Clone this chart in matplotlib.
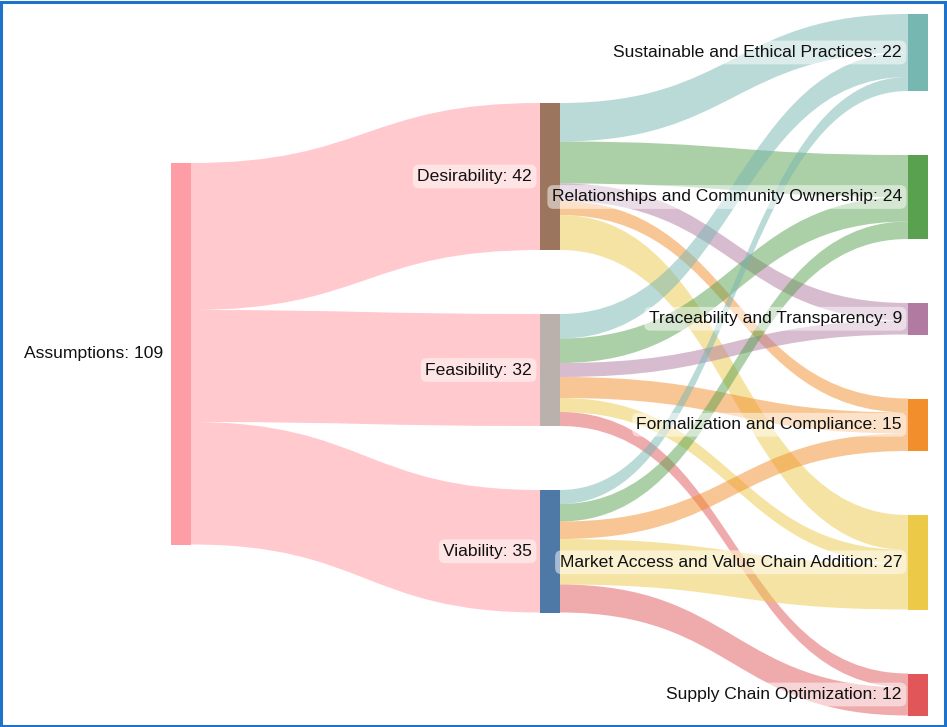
import numpy as np
import matplotlib.pyplot as plt
from matplotlib.path import Path
from matplotlib.patches import PathPatch, Rectangle

plt.rcParams['font.family'] = ['Liberation Sans', 'DejaVu Sans']

## DATA

source_name = "Assumptions"
middle_names = ["Desirability", "Feasibility", "Viability"]
target_names = ["Sustainable and Ethical Practices",
                "Relationships and Community Ownership",
                "Traceability and Transparency",
                "Formalization and Compliance",
                "Market Access and Value Chain Addition",
                "Supply Chain Optimization"]

# flows middle -> target (rows: middle, cols: target)
desirability_flows = [11, 12, 5, 4, 10, 0]
feasibility_flows = [7, 7, 4, 6, 4, 4]
viability_flows = [4, 5, 0, 5, 13, 8]

source_color = "#ff9da7"
middle_colors = ["#9c755f", "#bab0ac", "#4e79a7"]
target_colors = ["#76b7b2", "#59a14f", "#b07aa1", "#f28e2b", "#edc948", "#e15759"]

## LAYOUT (pixels)

W, H = 947, 727
scale = 3.5      # px per unit
gap = 64         # px between nodes
node_w = 20
col_x = [171, 540, 908]
col_top = [163, 103, 14]

flows = np.array([desirability_flows, feasibility_flows, viability_flows])
middle_vals = flows.sum(axis=1)
target_vals = flows.sum(axis=0)
total = middle_vals.sum()


def stack(vals, top):
    pos = []
    y = top
    for v in vals:
        pos.append(y)
        y += v * scale + gap
    return pos


middle_y = stack(middle_vals, col_top[1])
target_y = stack(target_vals, col_top[2])
source_y = col_top[0]


def link(ax, x0, y0, x1, y1, h, color, alpha=0.55):
    xm = (x0 + x1) / 2
    verts = [(x0, y0), (xm, y0), (xm, y1), (x1, y1),
             (x1, y1 + h), (xm, y1 + h), (xm, y0 + h), (x0, y0 + h),
             (x0, y0)]
    codes = [Path.MOVETO, Path.CURVE4, Path.CURVE4, Path.CURVE4,
             Path.LINETO, Path.CURVE4, Path.CURVE4, Path.CURVE4,
             Path.CLOSEPOLY]
    ax.add_patch(PathPatch(Path(verts, codes), facecolor=color, edgecolor='none',
                           alpha=alpha, zorder=1))


def label(ax, x, y, text, box=True):
    bbox = dict(boxstyle='round,pad=0.25,rounding_size=0.35', fc='white', ec='none',
                alpha=0.5) if box else None
    ax.text(x, y, text, ha='right', va='center', fontsize=12.6, color='#111111',
            bbox=bbox, zorder=5)


fig = plt.figure(figsize=(W / 100, H / 100), dpi=100)
ax = fig.add_axes([0, 0, 1, 1])
ax.set_xlim(0, W)
ax.set_ylim(H, 0)
ax.axis('off')

# source -> middle links
y = source_y
for i, v in enumerate(middle_vals):
    link(ax, col_x[0] + node_w, y, col_x[1], middle_y[i], v * scale, source_color)
    y += v * scale

# middle -> target links
target_fill = list(target_y)
for i in range(len(middle_names)):
    y = middle_y[i]
    for j in range(len(target_names)):
        v = flows[i, j]
        if v == 0:
            continue
        link(ax, col_x[1] + node_w, y, col_x[2], target_fill[j], v * scale,
             target_colors[j], alpha=0.5)
        y += v * scale
        target_fill[j] += v * scale

# nodes
ax.add_patch(Rectangle((col_x[0], source_y), node_w, total * scale,
                       fc=source_color, ec='none', zorder=3))
for i, v in enumerate(middle_vals):
    ax.add_patch(Rectangle((col_x[1], middle_y[i]), node_w, v * scale,
                           fc=middle_colors[i], ec='none', zorder=3))
for j, v in enumerate(target_vals):
    ax.add_patch(Rectangle((col_x[2], target_y[j]), node_w, v * scale,
                           fc=target_colors[j], ec='none', zorder=3))

# labels
label(ax, col_x[0] - 8, source_y + total * scale / 2, f"{source_name}: {total}", box=False)
for i, v in enumerate(middle_vals):
    label(ax, col_x[1] - 8, middle_y[i] + v * scale / 2, f"{middle_names[i]}: {v}")
for j, v in enumerate(target_vals):
    label(ax, col_x[2] - 6, target_y[j] + v * scale / 2, f"{target_names[j]}: {v}")

# blue frame
fig.patches.append(Rectangle((0.001, 0.002), 0.997, 0.995, transform=fig.transFigure,
                             fill=False, ec='#1f72c9', lw=2.2))

fig.savefig("out.png", dpi=100)
